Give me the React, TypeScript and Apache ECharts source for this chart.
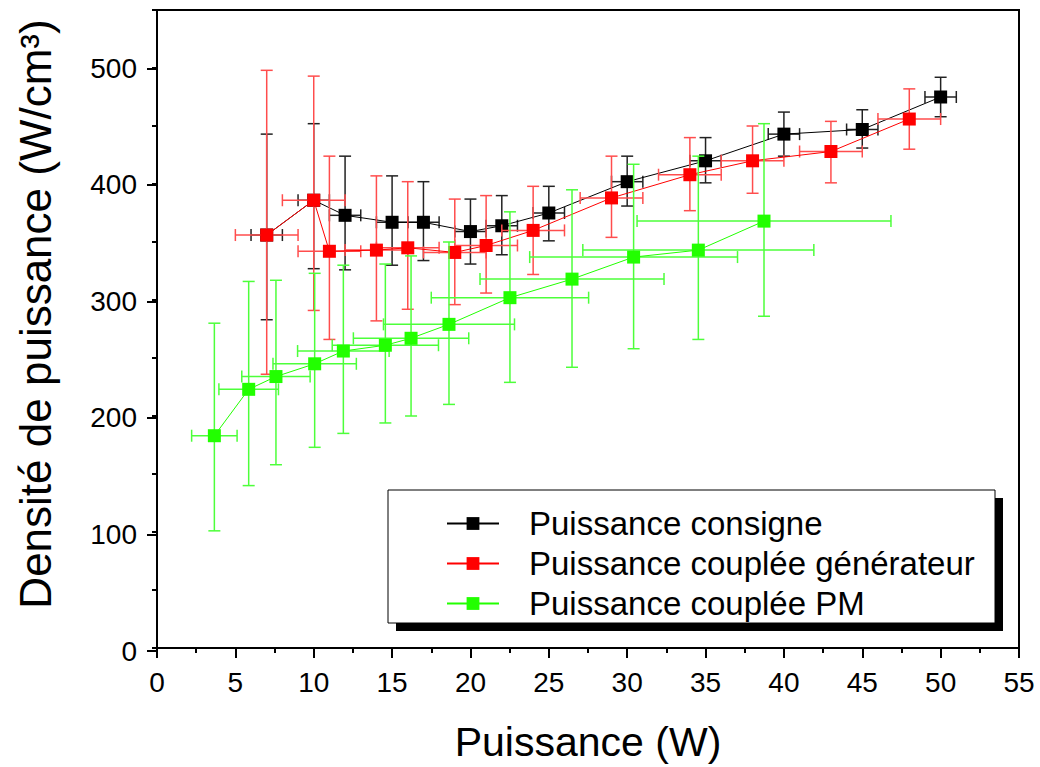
import { useEffect, useRef } from 'react';
import * as echarts from 'echarts';

// Puissance consigne (black)
const consigneX = [7, 10, 12, 15, 17, 20, 22, 25, 30, 35, 40, 45, 50];
const consigneY = [356, 386, 373, 367, 367, 359, 364, 375, 402, 420, 443, 447, 475];
const consigneLow = [283, 327, 326, 330, 334, 331, 339, 351, 381, 401, 424, 431, 458];
const consigneHigh = [443, 452, 424, 407, 402, 387, 390, 398, 424, 440, 462, 464, 492];
const consigneXErr = [1, 1, 1, 1, 1, 1, 1, 1, 1, 1, 1, 1, 1];

// Puissance couplée générateur (red)
const generateurX = [7, 10, 11, 14, 16, 19, 21, 24, 29, 34, 38, 43, 48];
const generateurY = [356, 386, 342, 343, 345, 341, 347, 360, 388, 408, 420, 428, 456];
const generateurLow = [236, 291, 266, 282, 292, 296, 306, 322, 354, 377, 392, 401, 430];
const generateurHigh = [498, 493, 424, 407, 402, 387, 390, 398, 424, 440, 450, 454, 482];
const generateurXErr = [2, 2, 2, 2, 2, 2, 2, 2, 2, 2, 2, 2, 2];

// Puissance couplée PM (green)
const pmX = [3.66, 5.85, 7.59, 10.06, 11.89, 14.57, 16.21, 18.63, 22.52, 26.48, 30.41, 34.54, 38.73];
const pmY = [183, 223, 234, 245, 256, 261, 267, 279, 302, 318, 337, 343, 368];
const pmLow = [101, 140, 158, 173, 185, 194, 200, 210, 229, 242, 258, 266, 286];
const pmHigh = [280, 316, 317, 323, 330, 331, 338, 350, 376, 395, 417, 424, 452];
const pmXErr = [1.45, 1.9, 2.18, 2.66, 2.92, 3.39, 3.68, 4.18, 5.02, 5.87, 6.63, 7.37, 8.1];

const seriesNames = ['Puissance consigne', 'Puissance couplée générateur', 'Puissance couplée PM'];
const xTitle = 'Puissance (W)';
const yTitle = 'Densité de puissance (W/cm³)';

const FONT = '"Liberation Sans", Arial, sans-serif';

function errRender(color: string) {
  return (params: any, api: any) => {
    const x = api.value(0);
    const y = api.value(1);
    const lo = api.value(2);
    const hi = api.value(3);
    const xe = api.value(4);
    const c = api.coord([x, y]);
    const top = api.coord([x, hi]);
    const bot = api.coord([x, lo]);
    const l = api.coord([x - xe, y]);
    const r = api.coord([x + xe, y]);
    const cap = 6;
    const style = { stroke: color, lineWidth: 1.5, fill: 'none' };
    return {
      type: 'group',
      children: [
        { type: 'line', shape: { x1: c[0], y1: top[1], x2: c[0], y2: bot[1] }, style },
        { type: 'line', shape: { x1: c[0] - cap, y1: top[1], x2: c[0] + cap, y2: top[1] }, style },
        { type: 'line', shape: { x1: c[0] - cap, y1: bot[1], x2: c[0] + cap, y2: bot[1] }, style },
        { type: 'line', shape: { x1: l[0], y1: c[1], x2: r[0], y2: c[1] }, style },
        { type: 'line', shape: { x1: l[0], y1: c[1] - cap, x2: l[0], y2: c[1] + cap }, style },
        { type: 'line', shape: { x1: r[0], y1: c[1] - cap, x2: r[0], y2: c[1] + cap }, style },
      ],
    };
  };
}

function errData(xs: number[], ys: number[], lo: number[], hi: number[], xe: number[]) {
  return xs.map((x, i) => [x, ys[i], lo[i], hi[i], xe[i]]);
}

function pts(xs: number[], ys: number[]) {
  return xs.map((x, i) => [x, ys[i]]);
}

export default function App() {
  const ref = useRef<HTMLDivElement>(null);
  useEffect(() => {
    const chart = echarts.init(ref.current!, null, { renderer: 'svg' });
    const colors = ['#000000', '#ff0000', '#22ff00'];
    const errColors = ['#222222', '#ff4d4d', '#4dff3a'];
    const sets = [
      [consigneX, consigneY, consigneLow, consigneHigh, consigneXErr],
      [generateurX, generateurY, generateurLow, generateurHigh, generateurXErr],
      [pmX, pmY, pmLow, pmHigh, pmXErr],
    ];
    const series: any[] = [];
    sets.forEach((s, i) => {
      series.push({
        type: 'custom',
        name: seriesNames[i] + ' err',
        coordinateSystem: 'cartesian2d',
        xAxisIndex: 0,
        yAxisIndex: 0,
        silent: true,
        z: 2 + i * 2,
        encode: { x: 0, y: 1 },
        renderItem: errRender(errColors[i]),
        data: errData(s[0], s[1], s[2], s[3], s[4]),
      });
      series.push({
        type: 'line',
        name: seriesNames[i],
        xAxisIndex: 0,
        yAxisIndex: 0,
        z: 3 + i * 2,
        symbol: 'rect',
        symbolSize: 13,
        showSymbol: true,
        lineStyle: { color: colors[i], width: 1 },
        itemStyle: { color: colors[i] },
        data: pts(s[0], s[1]),
      });
    });
    const option: any = {
      animation: false,
      backgroundColor: '#ffffff',
      grid: [
        { left: 157, right: 21, top: 10, bottom: 116, show: true, borderColor: '#000', borderWidth: 2 },
        { left: 157, right: 21, top: 68.27, bottom: 116, show: false },
      ],
      xAxis: [
        {
          gridIndex: 0,
          type: 'value',
          min: 0,
          max: 55,
          interval: 5,
          name: xTitle,
          nameLocation: 'middle',
          nameGap: 73,
          nameTextStyle: { fontSize: 41, fontFamily: FONT, color: '#000' },
          axisLine: { show: true, lineStyle: { color: '#000', width: 2 } },
          axisTick: { show: true, length: 10, inside: false, lineStyle: { color: '#000', width: 2 } },
          minorTick: { show: true, splitNumber: 2, length: 5, lineStyle: { color: '#000', width: 2 } },
          splitLine: { show: false },
          axisLabel: { fontSize: 28, fontFamily: FONT, color: '#000', margin: 20 },
        },
        { gridIndex: 1, type: 'value', min: 0, max: 55, show: false },
      ],
      yAxis: [
        {
          gridIndex: 0,
          type: 'value',
          min: 0,
          max: 550,
          interval: 50,
          name: yTitle,
          nameLocation: 'middle',
          nameGap: 100,
          nameRotate: 90,
          nameTextStyle: { fontSize: 44, fontFamily: FONT, color: '#000', padding: [0, 0, 0, 30] },
          axisLine: { show: true, lineStyle: { color: '#000', width: 2 } },
          axisTick: { show: true, length: 5, lineStyle: { color: '#000', width: 2 } },
          splitLine: { show: false },
          axisLabel: { show: false },
        },
        {
          gridIndex: 1,
          type: 'value',
          min: 0,
          max: 500,
          interval: 100,
          axisLine: { show: false },
          axisTick: { show: true, length: 10, lineStyle: { color: '#000', width: 2 } },
          splitLine: { show: false },
          axisLabel: { fontSize: 28, fontFamily: FONT, color: '#000', margin: 20 },
        },
      ],
      legend: {
        data: seriesNames,
        orient: 'vertical',
        left: 441,
        top: 502,
        itemWidth: 52,
        itemHeight: 16,
        itemGap: 7,
        selectedMode: false,
        z: 10,
        textStyle: { fontSize: 33, fontFamily: FONT, color: '#000', padding: [0, 0, 0, 25] },
      },
      graphic: [
        { type: 'rect', z: 5, shape: { x: 396, y: 498, width: 607, height: 133 }, style: { fill: '#000' } },
        { type: 'rect', z: 6, shape: { x: 388, y: 490, width: 607, height: 133 }, style: { fill: '#fff', stroke: '#000', lineWidth: 1 } },
      ],
      series,
    };
    chart.setOption(option);
    return () => chart.dispose();
  }, []);
  return <div ref={ref} style={{ position: 'fixed', left: 0, top: 0, width: 1040, height: 767 }} />;
}
